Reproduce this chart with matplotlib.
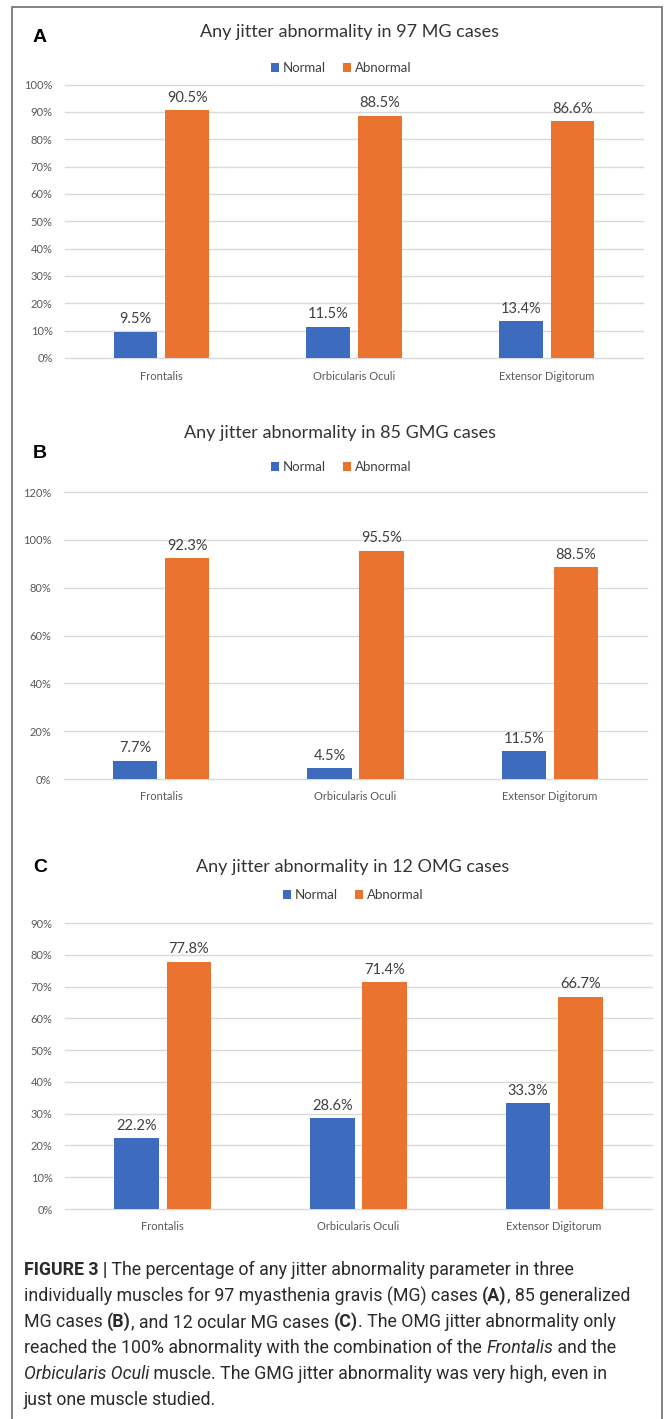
import matplotlib
matplotlib.use("Agg")
import matplotlib.pyplot as plt
from matplotlib import font_manager
from matplotlib.patches import Patch, Rectangle
from matplotlib.ticker import FuncFormatter, MultipleLocator

# ---------------- data ----------------
categories = ["Frontalis", "Orbicularis Oculi", "Extensor Digitorum"]
series_names = ["Normal", "Abnormal"]

a_normal = [9.5, 11.5, 13.4]
a_abnormal = [90.5, 88.5, 86.6]
b_normal = [7.7, 4.5, 11.5]
b_abnormal = [92.3, 95.5, 88.5]
c_normal = [22.2, 28.6, 33.3]
c_abnormal = [77.8, 71.4, 66.7]

titles = ["Any jitter abnormality in 97 MG cases",
          "Any jitter abnormality in 85 GMG cases",
          "Any jitter abnormality in 12 OMG cases"]
panel_letters = ["A", "B", "C"]
y_max = [100, 120, 90]
y_step = [10, 20, 10]

# ---------------- style ----------------
W, H = 667, 1419
BLUE = "#3D6BBE"
ORANGE = "#E9732F"
GRID = "#D9D9D9"
TICK = "#595959"
CHART_FONT = ["Lato", "DejaVu Sans"]


def first_available(names):
    for n in names:
        try:
            font_manager.findfont(font_manager.FontProperties(family=n),
                                  fallback_to_default=False)
            return n
        except Exception:
            continue
    return "DejaVu Sans"


CAP_FONT = [first_available(["Liberation Sans Narrow", "Roboto", "Liberation Sans"]), "DejaVu Sans"]

fig = plt.figure(figsize=(W / 100, H / 100), dpi=100)
fig.patch.set_facecolor("white")

# outer frame
fig.add_artist(Rectangle((12 / W, -0.01), (662 - 12) / W, 1 - 7 / H + 0.01,
                         transform=fig.transFigure, fill=False,
                         edgecolor="#6E6E6E", linewidth=1.2))


def fy(y):
    return 1 - y / H


layouts = [
    dict(x0=65, x1=643, ytop=84.5, ybot=358, title_y=32, title_x=349, leg_y=68, leg_x=341, let_y=37),
    dict(x0=64, x1=647, ytop=492, ybot=779, title_y=433, title_x=340, leg_y=467, leg_x=341, let_y=453),
    dict(x0=65, x1=652, ytop=923, ybot=1209, title_y=867, title_x=353, leg_y=895, leg_x=353, let_y=868),
]

normals = [a_normal, b_normal, c_normal]
abnormals = [a_abnormal, b_abnormal, c_abnormal]

bar_w = 0.228
off = 0.134

for i, L in enumerate(layouts):
    ax = fig.add_axes([L["x0"] / W, fy(L["ybot"]), (L["x1"] - L["x0"]) / W,
                       (L["ybot"] - L["ytop"]) / H])
    xs = list(range(len(categories)))
    b1 = ax.bar([x - off for x in xs], normals[i], width=bar_w, color=BLUE, zorder=3)
    b2 = ax.bar([x + off for x in xs], abnormals[i], width=bar_w, color=ORANGE, zorder=3)
    for bars, vals in ((b1, normals[i]), (b2, abnormals[i])):
        ax.bar_label(bars, labels=[f"{v:.1f}%" for v in vals], padding=4,
                     fontsize=10.5, color="#404040", family=CHART_FONT)
    ax.set_xlim(-0.5, len(categories) - 0.5)
    ax.set_ylim(0, y_max[i])
    ax.yaxis.set_major_locator(MultipleLocator(y_step[i]))
    ax.yaxis.set_major_formatter(FuncFormatter(lambda v, p: f"{v:.0f}%"))
    ax.grid(axis="y", color=GRID, linewidth=1.0, zorder=0)
    for gl in ax.get_ygridlines():
        gl.set_clip_on(False)
    for s in ax.spines.values():
        s.set_visible(False)
    ax.set_xticks(xs)
    ax.set_xticklabels(categories)
    ax.tick_params(axis="both", length=0, colors=TICK)
    ax.tick_params(axis="y", pad=9, labelsize=8)
    ax.tick_params(axis="x", pad=9, labelsize=8)
    for t in ax.get_xticklabels() + ax.get_yticklabels():
        t.set_family(CHART_FONT)
    ax.set_facecolor("none")

    fig.text(L["title_x"] / W, fy(L["title_y"]), titles[i], ha="center", va="center",
             fontsize=13, color="#333333", family=CHART_FONT)
    fig.text(40 / W, fy(L["let_y"]), panel_letters[i], ha="center", va="center",
             fontsize=14, fontweight="bold", color="black",
             family=["Liberation Sans", "DejaVu Sans"])
    handles = [Patch(facecolor=BLUE), Patch(facecolor=ORANGE)]
    leg = ax.legend(handles, series_names, loc="center",
                    bbox_to_anchor=(L["leg_x"] / W, fy(L["leg_y"])),
                    bbox_transform=fig.transFigure, ncol=2, frameon=False,
                    handlelength=0.6, handleheight=0.6, handletextpad=0.3,
                    columnspacing=1.3, borderpad=0,
                    prop={"family": CHART_FONT, "size": 9.5})
    for t in leg.get_texts():
        t.set_color("#404040")

# ---------------- caption ----------------
cap_lines = [
    [("FIGURE 3 |", "b"), (" The percentage of any jitter abnormality parameter in three", "n")],
    [("individually muscles for 97 myasthenia gravis (MG) cases ", "n"), ("(A)", "b"),
     (", 85 generalized", "n")],
    [("MG cases ", "n"), ("(B)", "b"), (", and 12 ocular MG cases ", "n"), ("(C)", "b"),
     (". The OMG jitter abnormality only", "n")],
    [("reached the 100% abnormality with the combination of the ", "n"), ("Frontalis", "i"),
     (" and the", "n")],
    [("Orbicularis Oculi", "i"), (" muscle. The GMG jitter abnormality was very high, even in", "n")],
    [("just one muscle studied.", "n")],
]
cap_x0 = 24
cap_y0 = 1270
cap_dy = 26
renderer = fig.canvas.get_renderer()


def style_kw(style, size):
    kw = dict(fontsize=size, family=CAP_FONT)
    if style == "b":
        kw["fontweight"] = "bold"
    if style == "i":
        kw["fontstyle"] = "italic"
    return kw


def text_width(s, style, size):
    kw = style_kw(style, size)
    t = fig.text(0, 0, "x" + s + "x", **kw)
    w1 = t.get_window_extent(renderer).width
    t.remove()
    t = fig.text(0, 0, "xx", **kw)
    w2 = t.get_window_extent(renderer).width
    t.remove()
    return w1 - w2


# fit the caption's font size so that its longest line spans the reference width
target_w = 606
base = 12.0
w_line2 = sum(text_width(s, st, base) for s, st in cap_lines[1])
cap_size = base * target_w / w_line2

for li, runs in enumerate(cap_lines):
    x = cap_x0
    y = cap_y0 + li * cap_dy
    for s, style in runs:
        w = text_width(s, style, cap_size)
        fig.text(x / W, fy(y), s, ha="left", va="center", color="#2B2B2B",
                 **style_kw(style, cap_size))
        x += w

fig.savefig("out.png", dpi=100, facecolor="white")
